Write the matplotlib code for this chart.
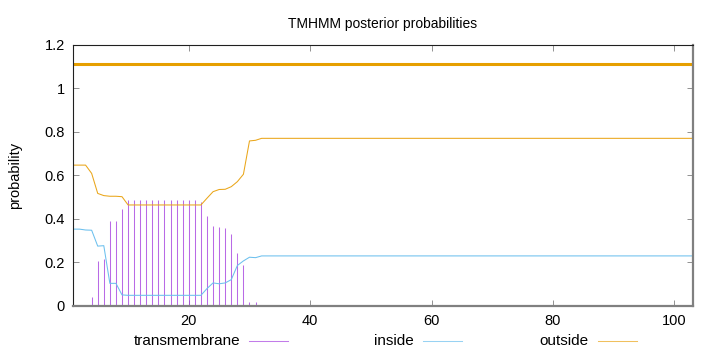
import numpy as np
import matplotlib
matplotlib.use("Agg")
import matplotlib.pyplot as plt
from matplotlib.lines import Line2D
from matplotlib.ticker import FuncFormatter

plt.rcParams['font.family'] = ['Liberation Sans', 'DejaVu Sans']

# Data (per residue, 1..103)
seq_len = 103
tm_head = [0.0, 0.0, 0.004, 0.043, 0.208, 0.216, 0.392, 0.392, 0.447,
           0.487, 0.487, 0.487, 0.487, 0.487, 0.487, 0.487, 0.487, 0.487,
           0.487, 0.487, 0.487, 0.478, 0.413, 0.369, 0.363, 0.358, 0.331,
           0.243, 0.188, 0.018, 0.017, 0.0]
inside_head = [0.353, 0.353, 0.349, 0.348, 0.275, 0.277, 0.104, 0.104, 0.051,
               0.049, 0.049, 0.049, 0.049, 0.049, 0.049, 0.049, 0.049, 0.049,
               0.049, 0.049, 0.049, 0.049, 0.080, 0.106, 0.102, 0.106, 0.121,
               0.186, 0.207, 0.224, 0.222, 0.230]
outside_head = [0.647, 0.647, 0.647, 0.609, 0.517, 0.507, 0.504, 0.504, 0.502,
                0.464, 0.464, 0.464, 0.464, 0.464, 0.464, 0.464, 0.464, 0.464,
                0.464, 0.464, 0.464, 0.464, 0.495, 0.525, 0.535, 0.536, 0.548,
                0.571, 0.605, 0.758, 0.761, 0.770]
tail = seq_len - len(tm_head)
transmembrane = tm_head + [0.0] * tail
inside = inside_head + [0.230] * tail
outside = outside_head + [0.770] * tail
residues = np.arange(1, seq_len + 1)

# predicted topology segment (outside)
topo_start = [1]
topo_end = [103]
topo_level = 1.11

c_tm = '#a845e0'
c_in = '#6cc0ee'
c_out = '#eaa61a'

fig = plt.figure(figsize=(7.2, 3.52), dpi=100)
ax = fig.add_axes([0.102, 0.1307, 0.860, 0.7423])

ax.vlines(residues, 0, transmembrane, color=c_tm, lw=0.75, alpha=0.8)
ax.plot(residues, inside, color=c_in, lw=0.75)
ax.plot(residues, outside, color=c_out, lw=0.75)
for s, e in zip(topo_start, topo_end):
    ax.plot([s, e], [topo_level, topo_level], color='#e69f00', lw=2.2,
             solid_capstyle='butt')

ax.set_xlim(1, 103)
ax.set_ylim(0, 1.2)
ax.set_xticks([20, 40, 60, 80, 100])
ax.set_yticks([0, 0.2, 0.4, 0.6, 0.8, 1.0, 1.2])
ax.yaxis.set_major_formatter(FuncFormatter(lambda v, p: ('%g' % round(v, 2))))
ax.tick_params(direction='in', length=4, width=0.6, color='#808080',
               top=True, right=True, labelsize=10.5, pad=6)

for side in ['top', 'left']:
    ax.spines[side].set_color('#202020')
    ax.spines[side].set_linewidth(0.8)
for side in ['bottom', 'right']:
    ax.spines[side].set_color('#808080')
    ax.spines[side].set_linewidth(1.6)

ax.set_ylabel('probability', fontsize=10.5, labelpad=16)
ax.set_title('TMHMM posterior probabilities', fontsize=10, pad=12)

# legend along the bottom, gnuplot style (text then sample)
legend_items = [('transmembrane', c_tm, 240, 249, 288),
                ('inside', c_in, 414, 423, 462),
                ('outside', c_out, 589, 598, 637)]
W, H = 720.0, 352.0
ly = 341
for label, col, tx, x0, x1 in legend_items:
    fig.text(tx / W, 1 - ly / H, label, ha='right', va='center', fontsize=11)
    fig.add_artist(Line2D([x0 / W, x1 / W], [1 - ly / H, 1 - ly / H],
                          color=col, lw=0.75, alpha=0.7))

fig.savefig('out.png', dpi=100)
